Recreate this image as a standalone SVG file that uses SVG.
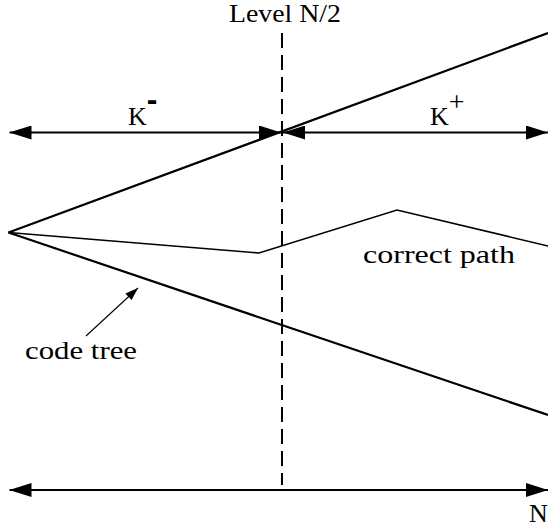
<svg xmlns="http://www.w3.org/2000/svg" width="548" height="528" viewBox="0 0 548 528">
  <style>
    .lbl { font-family: "Liberation Serif", "DejaVu Serif", serif; font-size: 26px; fill: #000; }
    .thick { stroke: #000; stroke-width: 2.2; fill: none; }
    .med { stroke: #000; stroke-width: 1.6; fill: none; stroke-linejoin: miter; }
    .thin { stroke: #000; stroke-width: 1.1; fill: none; }
    .dash { stroke: #000; stroke-width: 2; stroke-dasharray: 15 7; fill: none; }
  </style>
  <defs>
    <marker id="big" markerUnits="userSpaceOnUse" viewBox="0 0 22 14" refX="22" refY="7" markerWidth="22" markerHeight="14" orient="auto-start-reverse">
      <path d="M0,0 L22,7 L0,14 z" fill="#000"/>
    </marker>
    <marker id="small" markerUnits="userSpaceOnUse" viewBox="0 0 13 9" refX="13" refY="4.5" markerWidth="13" markerHeight="9" orient="auto">
      <path d="M0,0 L13,4.5 L0,9 z" fill="#000"/>
    </marker>
  </defs>
  <rect width="548" height="528" fill="#fff"/>

  <g id="connectors">
    <line id="level-line" class="dash" x1="282" y1="33" x2="282" y2="485"/>
    <line id="tree-upper" class="thick" x1="8.5" y1="232.5" x2="548" y2="33"/>
    <line id="tree-lower" class="thick" x1="8.5" y1="232.5" x2="548" y2="415"/>
    <polyline id="correct-path" class="med" points="8.5,232.5 259,253 397,210 548,246"/>
    <line id="k-minus" class="thick" x1="9.5" y1="132.5" x2="281" y2="132.5" marker-start="url(#big)" marker-end="url(#big)"/>
    <line id="k-plus" class="thick" x1="283" y1="132.5" x2="548" y2="132.5" marker-start="url(#big)" marker-end="url(#big)"/>
    <line id="n-range" class="thick" x1="9.5" y1="490" x2="548" y2="490" marker-start="url(#big)" marker-end="url(#big)"/>
    <line id="code-tree-pointer" class="thin" x1="86" y1="336" x2="138" y2="288" marker-end="url(#small)"/>
  </g>

  <g id="labels">
    <g id="label-level"><text class="lbl" x="229" y="22" textLength="112" lengthAdjust="spacingAndGlyphs">Level N/2</text></g>
    <g id="label-kminus"><text class="lbl" x="128" y="125" font-size="27">K<tspan font-family="Liberation Sans, sans-serif" font-weight="bold" font-size="32" dy="-15">-</tspan></text></g>
    <g id="label-kplus"><text class="lbl" x="430" y="125" font-size="27">K<tspan font-size="28" dy="-14">+</tspan></text></g>
    <g id="label-correct"><text class="lbl" x="363" y="263" textLength="152" lengthAdjust="spacingAndGlyphs">correct path</text></g>
    <g id="label-codetree"><text class="lbl" x="25" y="359" textLength="112" lengthAdjust="spacingAndGlyphs">code tree</text></g>
    <g id="label-n"><text class="lbl" x="529" y="522" font-size="25">N</text></g>
  </g>
</svg>
